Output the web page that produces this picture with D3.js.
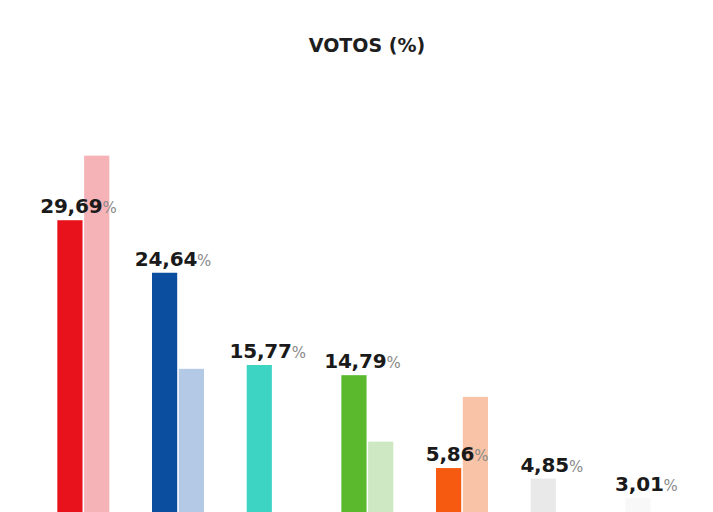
<!DOCTYPE html>
<head>
    <meta charset=utf-8>
    <title>Votos (%)</title>
    <script src="https://d3js.org/d3.v7.min.js"></script>
    <style>
        body { margin: 0; background: #ffffff; }
        text { font-family: "DejaVu Sans", sans-serif; }
        .title { font-weight: bold; fill: #1e1e1e; }
        .val { font-weight: bold; fill: #1a1a1a; }
        .pct { fill: #8a8a8a; font-weight: normal; }
    </style>
</head>
<body>
    <div id="chart"></div>
    <script type="text/javascript">
        // partidos (no aparecen rotulados en el gráfico)
        var partidos = ["p1", "p2", "p3", "p4", "p5", "p6", "p7"];
        var series = ["actual", "anterior"];
        // votos actuales (%)
        var votos = [29.69, 24.64, 15.77, 14.79, 5.86, 4.85, 3.01];
        // votos elección anterior (%), barras claras
        var votosAnt = [35.9, 15.4, 0, 8.4, 12.7, 0, 0];
        var colores = ["#e8121c", "#0b4d9e", "#3dd4c3", "#5ab92c", "#f65a10", "#e9e9ea", "#f8f8f8"];
        var coloresAnt = ["#f5b3b7", "#b3c9e5", "#bfeee9", "#cde8c2", "#f8c3a6", "#f0f0f0", "#f8f8f8"];

        var svg_dx = 713, svg_dy = 512;
        var base_y = 529;

        var svg = d3.select("#chart")
                .append("svg")
                .attr("width", svg_dx)
                .attr("height", svg_dy);

        var x = d3.scaleBand().domain(partidos).range([36, 36 + 7 * 94.67]),
            x1 = d3.scaleBand().domain(series).range([0, 52]).paddingInner(0.06),
            y = d3.scaleLinear().domain([0, 40]).range([base_y, base_y - 416]);

        var loc = d3.formatLocale({decimal: ",", thousands: ".", grouping: [3], currency: ["", "€"]}),
            fmt = loc.format(".2f");

        svg.append("text")
            .attr("class", "title")
            .attr("x", 367)
            .attr("y", 52)
            .attr("text-anchor", "middle")
            .style("font-size", "19px")
            .text("VOTOS (%)");

        var grupos = svg.append("g")
            .selectAll("g")
            .data(partidos)
            .enter()
            .append("g")
            .attr("transform", d => "translate(" + (x(d) + x.bandwidth() / 2 - 26) + ",0)");

        // barras claras (elección anterior)
        grupos.append("rect")
            .attr("x", x1("anterior"))
            .attr("width", x1.bandwidth())
            .attr("y", (d, i) => y(votosAnt[i]))
            .attr("height", (d, i) => base_y - y(votosAnt[i]))
            .attr("fill", (d, i) => coloresAnt[i]);

        grupos.append("rect")
            .attr("x", x1("actual"))
            .attr("width", x1.bandwidth())
            .attr("y", (d, i) => y(votos[i]))
            .attr("height", (d, i) => base_y - y(votos[i]))
            .attr("fill", (d, i) => colores[i]);

        var lab = grupos.append("text")
            .attr("class", "val")
            .attr("x", 21)
            .attr("y", (d, i) => y(votos[i]) - 7)
            .attr("text-anchor", "middle")
            .style("font-size", "20px")
            .style("letter-spacing", "-0.2px");

        lab.append("tspan").text((d, i) => fmt(votos[i]));
        lab.append("tspan").attr("class", "pct").style("font-size", "15px").text("%");
    </script>
</body>
